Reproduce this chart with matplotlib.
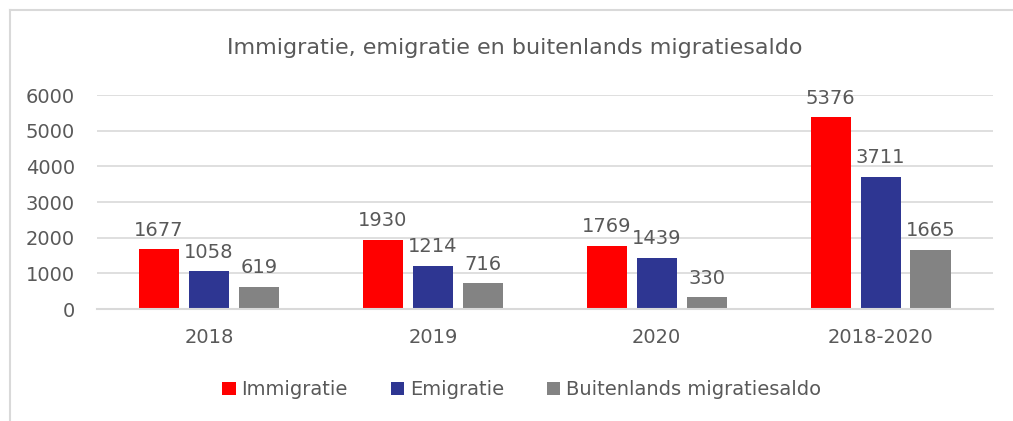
import numpy as np
import matplotlib.pyplot as plt
from matplotlib.lines import Line2D

# values
categories = ['2018', '2019', '2020', '2018-2020']
immigratie = [1677, 1930, 1769, 5376]
emigratie = [1058, 1214, 1439, 3711]
saldo = [619, 716, 330, 1665]
series_names = ['Immigratie', 'Emigratie', 'Buitenlands migratiesaldo']
colors = ['#FF0000', '#2E3692', '#838383']

text_color = '#595959'
grid_color = '#D9D9D9'
plt.rcParams['font.family'] = ['DejaVu Sans']

fig = plt.figure(figsize=(10.13, 4.21), dpi=100)
ax = fig.add_axes([0.0958, 0.266, 0.884, 0.508])

x = np.arange(len(categories))
width = 0.179
step = 0.223
for i, (vals, name, col) in enumerate(zip([immigratie, emigratie, saldo], series_names, colors)):
    bars = ax.bar(x + (i - 1) * step, vals, width, color=col, label=name)
    for b, v in zip(bars, vals):
        ax.annotate(str(v), (b.get_x() + b.get_width() / 2, v), xytext=(0, 7),
                    textcoords='offset points', ha='center', va='bottom',
                    fontsize=14, color=text_color, annotation_clip=False)

ax.set_xlim(-0.5, len(categories) - 0.5)
ax.set_ylim(0, 6000)
ax.set_yticks(range(0, 6001, 1000))
ax.set_xticks(x)
ax.set_xticklabels(categories)
ax.yaxis.grid(True, color=grid_color, linewidth=1.2)
ax.set_axisbelow(True)
for s in ['top', 'right', 'left']:
    ax.spines[s].set_visible(False)
ax.spines['bottom'].set_color(grid_color)
ax.spines['bottom'].set_linewidth(1.5)
ax.tick_params(axis='both', length=0, labelsize=14, labelcolor=text_color)
ax.tick_params(axis='x', pad=14)
ax.tick_params(axis='y', pad=16)

fig.suptitle('Immigratie, emigratie en buitenlands migratiesaldo', x=0.508, y=0.91,
             fontsize=16, color=text_color)

leg = fig.legend(loc='center', bbox_to_anchor=(0.515, 0.074), ncol=3, frameon=False,
                 handlelength=0.7, handleheight=0.7, handletextpad=0.3, columnspacing=2.2,
                 fontsize=14)
for t in leg.get_texts():
    t.set_color(text_color)

# chart border (left and top visible)
fig.add_artist(Line2D([9.5 / 1013, 9.5 / 1013], [0, 1 - 10 / 421], transform=fig.transFigure,
                      color=grid_color, linewidth=1.5))
fig.add_artist(Line2D([9.5 / 1013, 1], [1 - 10 / 421, 1 - 10 / 421], transform=fig.transFigure,
                      color=grid_color, linewidth=1.5))

fig.savefig('out.png', dpi=100)
